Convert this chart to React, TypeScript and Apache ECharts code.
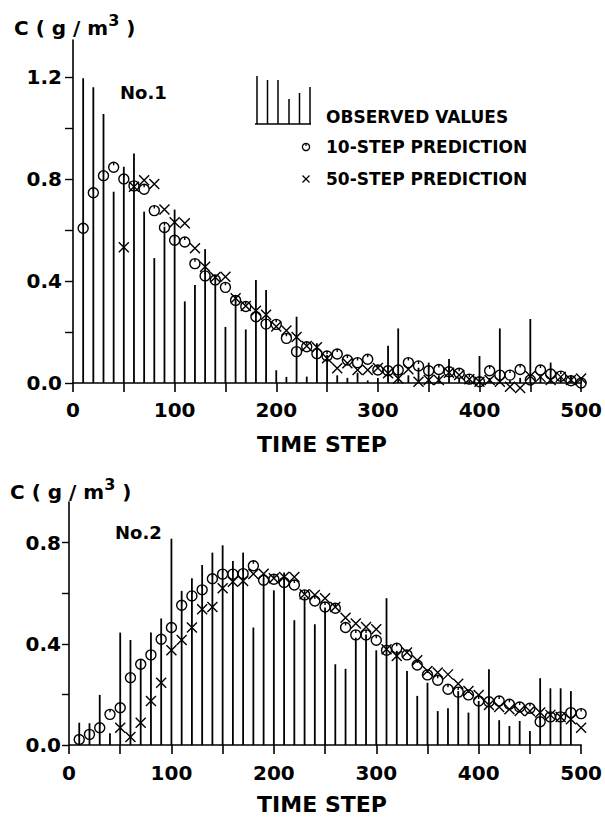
import React, { useEffect, useRef } from 'react';
import * as echarts from 'echarts';

// ---------- data ----------
const timeSteps = [
  10, 20, 30, 40, 50, 60, 70, 80, 90, 100, 110, 120, 130, 140, 150, 160, 170, 180, 190, 200,
  210, 220, 230, 240, 250, 260, 270, 280, 290, 300, 310, 320, 330, 340, 350, 360, 370, 380, 390, 400,
  410, 420, 430, 440, 450, 460, 470, 480, 490, 500,
];
const pred50Steps = timeSteps.slice(4); // 50-step prediction starts at t = 50

const xTickValues = [0, 50, 100, 150, 200, 250, 300, 350, 400, 450, 500];
const xLabelValues = [0, 100, 200, 300, 400, 500];
const yTickValues1 = [0, 0.2, 0.4, 0.6, 0.8, 1.0, 1.2];
const yLabelValues1 = [0, 0.4, 0.8, 1.2];
const yTickValues2 = [0, 0.2, 0.4, 0.6, 0.8];
const yLabelValues2 = [0, 0.4, 0.8];

// No.1
const observed1 = [
  1.195, 1.16, 1.055, 0.75, 0.848, 0.9, 0.672, 0.49, 0.613, 0.68,
  0.32, 0.384, 0.525, 0.417, 0.22, 0.34, 0.21, 0.404, 0.365, 0.05,
  0.024, 0.26, 0.025, 0.156, 0.11, 0.03, 0.02, 0.04, 0.01, 0.02,
  0.146, 0.214, 0.03, 0.06, 0.08, 0.03, 0.094, 0.02, 0.01, 0.106,
  0.02, 0.214, 0.01, 0.02, 0.251, 0.03, 0.08, 0.02, 0.03, 0.01,
];
const pred10_1 = [
  0.607, 0.746, 0.813, 0.846, 0.8, 0.773, 0.76, 0.676, 0.61, 0.56,
  0.553, 0.468, 0.42, 0.404, 0.375, 0.324, 0.3, 0.26, 0.231, 0.23,
  0.175, 0.123, 0.142, 0.115, 0.106, 0.114, 0.09, 0.08, 0.093, 0.051,
  0.048, 0.051, 0.08, 0.067, 0.048, 0.053, 0.044, 0.038, 0.015, 0.005,
  0.048, 0.031, 0.031, 0.053, 0.012, 0.051, 0.035, 0.027, 0.009, 0.0,
];
const pred50_1 = [
  0.532, 0.77, 0.795, 0.78, 0.68, 0.63,
  0.626, 0.528, 0.456, 0.415, 0.417, 0.332, 0.302, 0.283, 0.268, 0.222,
  0.206, 0.18, 0.145, 0.14, 0.097, 0.058, 0.077, 0.051, 0.051, 0.059,
  0.038, 0.018, 0.054, 0.005, 0.012, 0.012, 0.04, 0.031, 0.015, 0.005,
  0.012, 0.005, -0.015, -0.02, 0.027, 0.024, 0.012, 0.024, 0.012, 0.018,
];

// No.2
const observed2 = [
  0.088, 0.086, 0.198, 0.046, 0.444, 0.415, 0.33, 0.444, 0.5, 0.815,
  0.609, 0.659, 0.711, 0.76, 0.789, 0.727, 0.76, 0.464, 0.661, 0.611,
  0.681, 0.493, 0.585, 0.477, 0.543, 0.319, 0.301, 0.424, 0.437, 0.374,
  0.58, 0.372, 0.292, 0.194, 0.246, 0.134, 0.145, 0.213, 0.128, 0.174,
  0.299, 0.098, 0.075, 0.095, 0.055, 0.264, 0.224, 0.224, 0.213, 0.0,
];
const pred10_2 = [
  0.022, 0.042, 0.068, 0.121, 0.147, 0.266, 0.319, 0.356, 0.418, 0.464,
  0.552, 0.589, 0.613, 0.657, 0.675, 0.675, 0.677, 0.708, 0.651, 0.655,
  0.642, 0.632, 0.593, 0.569, 0.545, 0.54, 0.464, 0.435, 0.435, 0.414,
  0.374, 0.382, 0.356, 0.316, 0.277, 0.256, 0.22, 0.209, 0.198, 0.174,
  0.171, 0.174, 0.161, 0.15, 0.145, 0.092, 0.111, 0.111, 0.128, 0.124,
];
const pred50_2 = [
  0.068, 0.032, 0.088, 0.174, 0.246, 0.374,
  0.415, 0.464, 0.536, 0.545, 0.619, 0.645, 0.648, 0.676, 0.677, 0.659,
  0.664, 0.664, 0.596, 0.593, 0.58, 0.545, 0.503, 0.48, 0.466, 0.457,
  0.378, 0.352, 0.365, 0.335, 0.292, 0.286, 0.279, 0.242, 0.213, 0.198,
  0.158, 0.15, 0.141, 0.134, 0.134, 0.128, 0.119, 0.111, 0.102, 0.068,
];

// legend sample bars (decorative icon)
const legendBarTops = [76, 80, 80, 99, 93, 87];

// ---------- styling ----------
const FONT = '"DejaVu Sans", "Liberation Sans", sans-serif';
const BLACK = '#000';
const CIRCLE_SYMBOL = 'path://M0 10A10 10 0 1 1 20 10A10 10 0 1 1 0 10ZM10 0L10 6';
const CROSS_SYMBOL = 'path://M0 0L10 10M10 0L0 10';

function pairs(xs: number[], ys: number[]) {
  return xs.map((x, i) => [x, ys[i]]);
}

function makeXAxis(gridIndex: number, labelMargin: number) {
  return {
    type: 'value',
    gridIndex,
    min: 0,
    max: 500,
    interval: 50,
    axisLine: { show: true, onZero: false, lineStyle: { color: BLACK, width: 1.6 } },
    axisTick: { show: true, inside: false, length: 9, customValues: xTickValues, lineStyle: { color: BLACK, width: 1.6 } },
    axisLabel: {
      show: true,
      customValues: xLabelValues,
      margin: labelMargin,
      color: BLACK,
      fontSize: 20,
      fontWeight: 'bold',
      fontFamily: FONT,
      formatter: (v: number) => String(Math.round(v)),
    },
    splitLine: { show: false },
  };
}

function makeYAxis(gridIndex: number, max: number, ticks: number[], labels: number[], tickLen: number, margin: number) {
  return {
    type: 'value',
    gridIndex,
    min: 0,
    max,
    axisLine: { show: true, onZero: false, lineStyle: { color: BLACK, width: 1.6 } },
    axisTick: { show: true, inside: false, length: tickLen, customValues: ticks, lineStyle: { color: BLACK, width: 1.4 } },
    axisLabel: {
      show: true,
      customValues: labels,
      margin,
      color: BLACK,
      fontSize: 20,
      fontWeight: 'bold',
      fontFamily: FONT,
      formatter: (v: number) => v.toFixed(1),
    },
    splitLine: { show: false },
  };
}

function barSeries(idx: number, values: number[]) {
  return {
    type: 'bar',
    xAxisIndex: idx,
    yAxisIndex: idx,
    data: pairs(timeSteps, values),
    barWidth: 1.8,
    itemStyle: { color: BLACK },
    z: 2,
    silent: true,
  };
}

function scatterSeries(idx: number, xs: number[], values: number[], symbol: string, size: number) {
  return {
    type: 'scatter',
    xAxisIndex: idx,
    yAxisIndex: idx,
    data: pairs(xs, values),
    symbol,
    symbolSize: size,
    clip: false,
    itemStyle: { color: 'rgba(0,0,0,0)', borderColor: BLACK, borderWidth: 1.4, opacity: 1 },
    z: 3,
    silent: true,
  };
}

function unitLabel(left: number, top: number) {
  return {
    type: 'text',
    left,
    top,
    style: {
      text: '{m|C ( g / m}{s|3}{m| )}',
      fill: BLACK,
      rich: {
        m: { fontSize: 20, fontWeight: 'bold', fontFamily: FONT, lineHeight: 26, verticalAlign: 'bottom', fill: BLACK },
        s: { fontSize: 16, fontWeight: 'bold', fontFamily: FONT, lineHeight: 16, verticalAlign: 'top', fill: BLACK },
      },
    },
  };
}

function plainText(text: string, x: number, y: number, size: number, align: string = 'left') {
  return {
    type: 'text',
    x,
    y,
    style: {
      text,
      fill: BLACK,
      fontSize: size,
      fontWeight: 'bold',
      fontFamily: FONT,
      align,
      verticalAlign: 'middle',
    },
  };
}

function buildLegend() {
  const els: any[] = [];
  const xs = [257, 267.5, 278, 289, 299.5, 310];
  xs.forEach((x, i) => {
    els.push({ type: 'line', shape: { x1: x, y1: legendBarTops[i], x2: x, y2: 124 }, style: { stroke: BLACK, lineWidth: 1.5 } });
  });
  els.push({ type: 'line', shape: { x1: 255, y1: 124, x2: 311, y2: 124 }, style: { stroke: BLACK, lineWidth: 1.5 } });
  els.push(plainText('OBSERVED VALUES', 326, 117, 17));
  els.push({ type: 'circle', shape: { cx: 306, cy: 147, r: 3.6 }, style: { fill: 'none', stroke: BLACK, lineWidth: 1.3 } });
  els.push({ type: 'line', shape: { x1: 306, y1: 143.4, x2: 306, y2: 146 }, style: { stroke: BLACK, lineWidth: 1.2 } });
  els.push(plainText('10-STEP PREDICTION', 326, 147, 17));
  els.push({ type: 'line', shape: { x1: 302.5, y1: 175.5, x2: 309.5, y2: 182.5 }, style: { stroke: BLACK, lineWidth: 1.3 } });
  els.push({ type: 'line', shape: { x1: 309.5, y1: 175.5, x2: 302.5, y2: 182.5 }, style: { stroke: BLACK, lineWidth: 1.3 } });
  els.push(plainText('50-STEP PREDICTION', 326, 179, 17));
  return els;
}

const option: any = {
  animation: false,
  backgroundColor: '#fff',
  grid: [
    { left: 73, top: 40, width: 513, height: 343, containLabel: false },
    { left: 69, top: 502, width: 513, height: 243, containLabel: false },
  ],
  xAxis: [makeXAxis(0, 17), makeXAxis(1, 18)],
  yAxis: [
    makeYAxis(0, 1.345, yTickValues1, yLabelValues1, 8, 11),
    makeYAxis(1, 0.96, yTickValues2, yLabelValues2, 7, 8),
  ],
  series: [
    barSeries(0, observed1),
    scatterSeries(0, timeSteps, pred10_1, CIRCLE_SYMBOL, 10),
    scatterSeries(0, pred50Steps, pred50_1, CROSS_SYMBOL, 10),
    barSeries(1, observed2),
    scatterSeries(1, timeSteps, pred10_2, CIRCLE_SYMBOL, 10),
    scatterSeries(1, pred50Steps, pred50_2, CROSS_SYMBOL, 10),
  ],
  graphic: [
    unitLabel(14, 12),
    unitLabel(10, 476),
    plainText('No.1', 120, 92, 18),
    plainText('No.2', 115, 532, 18),
    plainText('TIME STEP', 322, 444, 22, 'center'),
    plainText('TIME STEP', 322, 804, 22, 'center'),
    ...buildLegend(),
  ],
};

export default function App() {
  const ref = useRef<HTMLDivElement>(null);
  useEffect(() => {
    document.body.style.margin = '0';
    if (!ref.current) return;
    const chart = echarts.init(ref.current, undefined, { renderer: 'svg' });
    chart.setOption(option);
    return () => chart.dispose();
  }, []);
  return <div ref={ref} style={{ width: 605, height: 819 }} />;
}
